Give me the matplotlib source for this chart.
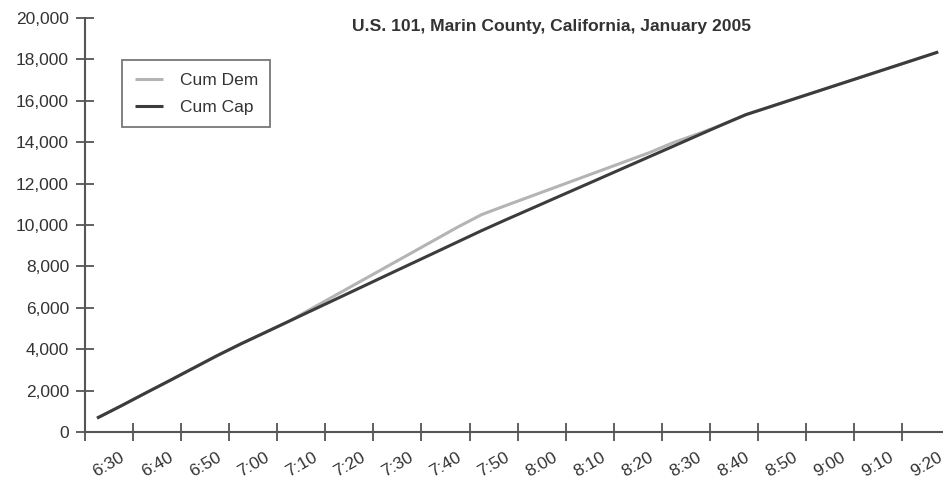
import matplotlib
matplotlib.use("Agg")
import matplotlib.pyplot as plt

# ---- data ----
times = ["6:30", "6:35", "6:40", "6:45", "6:50", "6:55", "7:00", "7:05", "7:10", "7:15",
         "7:20", "7:25", "7:30", "7:35", "7:40", "7:45", "7:50", "7:55", "8:00", "8:05",
         "8:10", "8:15", "8:20", "8:25", "8:30", "8:35", "8:40", "8:45", "8:50", "8:55",
         "9:00", "9:05", "9:10", "9:15", "9:20", "9:25"]
cum_dem = [670, 1260, 1870, 2470, 3080, 3690, 4265, 4810, 5357, 6007,
           6655, 7302, 7950, 8597, 9245, 9894, 10500, 10937, 11364, 11792,
           12219, 12647, 13075, 13503, 13990, 14400, 14837, 15331, 15709, 16089,
           16467, 16845, 17223, 17601, 17979, 18358]
cum_cap = [670, 1260, 1870, 2470, 3080, 3690, 4265, 4810, 5357, 5905,
           6451, 6997, 7545, 8090, 8634, 9181, 9726, 10247, 10756, 11268,
           11777, 12286, 12798, 13307, 13816, 14328, 14837, 15331, 15709, 16089,
           16467, 16845, 17223, 17601, 17979, 18358]
tick_labels = times[::2]
title = "U.S. 101, Marin County, California, January 2005"
yticks = list(range(0, 20001, 2000))

FONT = ["Liberation Sans", "DejaVu Sans"]
plt.rcParams["font.family"] = FONT
TXT = "#333333"
AX = "#555555"
FS = 12.5

W, H = 943, 479
fig = plt.figure(figsize=(W / 100, H / 100), dpi=100)
left, right, bottom, top = 85, 943, 432, 18
ax = fig.add_axes([left / W, 1 - bottom / H, (right - left) / W, (bottom - top) / H])

x = list(range(len(times)))
ax.plot(x, cum_dem, color="#b4b4b4", lw=2.2, label="Cum Dem", solid_capstyle="butt")
ax.plot(x, cum_cap, color="#3c3c3c", lw=2.2, label="Cum Cap", solid_capstyle="butt")

ax.set_xlim(-0.5, 35.2)
ax.set_ylim(0, 20000)

for s in ["top", "right"]:
    ax.spines[s].set_visible(False)
for s in ["left", "bottom"]:
    ax.spines[s].set_color(AX)
    ax.spines[s].set_linewidth(1.5)

ax.set_yticks(yticks)
ax.set_yticklabels([f"{v:,}" for v in yticks])
ax.tick_params(axis="y", direction="inout", length=13, width=1.3, color=AX,
               labelsize=FS, labelcolor=TXT, pad=5)

major_x = [i - 0.5 for i in range(0, len(times), 2)]
ax.set_xticks(major_x)
ax.set_xticklabels([])
ax.tick_params(axis="x", which="major", direction="inout", length=13, width=1.3, color=AX)
minor_x = [i + 0.95 for i in range(0, len(times), 2)]
ax.set_xticks(minor_x, minor=True)
ax.set_xticklabels(tick_labels, minor=True, rotation=30, ha="right",
                   rotation_mode="anchor", fontsize=FS, color=TXT)
ax.tick_params(axis="x", which="minor", length=0, pad=13)

fig.text(552 / W, 1 - 27 / H, title, ha="center", va="center",
         fontsize=12.6, fontweight="bold", color=TXT)

leg = ax.legend(loc="upper left", bbox_to_anchor=(122 / W, 1 - 60 / H),
                bbox_transform=fig.transFigure, borderaxespad=0,
                fontsize=FS, frameon=True, fancybox=False,
                handlelength=1.65, handletextpad=0.95, labelspacing=0.7,
                borderpad=0.72)
leg.get_frame().set_edgecolor(AX)
leg.get_frame().set_linewidth(1.3)
for t in leg.get_texts():
    t.set_color(TXT)

fig.savefig("out.png", dpi=100)
